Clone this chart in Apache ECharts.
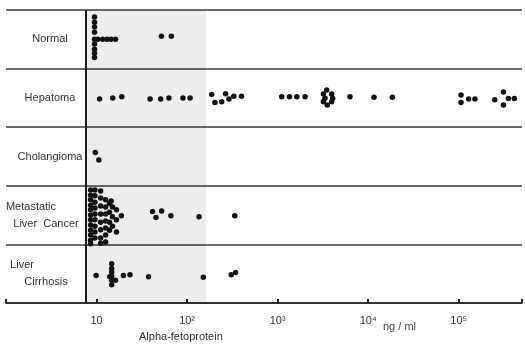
<!DOCTYPE html>
<html>
<head>
<meta charset="utf-8">
<script src="https://cdn.jsdelivr.net/npm/echarts@6/dist/echarts.min.js"></script>
<style>
  html, body { margin: 0; background: #fff; }
  #main { width: 525px; height: 347px; }
</style>
</head>
<body>
<div id="main"></div>
<script>
var categories = ['Normal', 'Hepatoma', 'Cholangioma', 'Metastatic Liver Cancer', 'Liver Cirrhosis'];

// each dot: [AFP in ng/ml, place inside its row, -0.5 = top .. 0.5 = bottom]
var normal = [
  [9.5, -0.38], [9.5, -0.29], [9.5, -0.21], [9.5, -0.12], [9.5, 0], [9.5, 0.08],
  [9.5, 0.17], [9.5, 0.24], [9.5, 0.31],
  [10.3, 0], [11.7, 0], [13.1, 0], [14.5, 0], [16.2, 0],
  [52, -0.05], [67, -0.05]
];
var hepatoma = [
  [10.8, 0.02], [15.1, 0], [19, -0.02], [39, 0.02], [51, 0.02], [63, 0], [90, 0], [108, 0],
  [187, -0.06], [203, 0.08], [241, 0.065], [266, -0.07], [290, 0.02], [328, -0.03], [399, -0.03],
  [1110, -0.02], [1350, -0.02], [1630, -0.02], [2010, -0.02],
  [3480, -0.135], [3200, -0.067], [3950, -0.067], [3340, 0.007], [4050, 0.007],
  [3200, 0.065], [3950, 0.065], [3540, 0.12],
  [6300, -0.02], [11600, -0.01], [18500, -0.01],
  [106000, -0.05], [106000, 0.08], [128800, 0.02], [151000, 0.02],
  [250000, 0.03], [312000, -0.1], [312000, 0.12], [354000, 0.01], [412000, 0.01]
];
var cholangioma = [[9.7, -0.07], [10.6, 0.06]];
var metastatic = [
  [8.6, -0.43], [8.6, -0.34], [8.6, -0.26], [8.6, -0.17], [8.6, -0.09], [8.6, 0],
  [8.6, 0.08], [8.6, 0.17], [8.6, 0.26], [8.6, 0.34], [8.6, 0.43], [8.6, 0.49],
  [9.6, -0.43], [9.6, -0.33], [9.6, -0.22], [9.6, -0.12], [9.6, -0.02], [9.6, 0.08],
  [9.6, 0.19], [9.6, 0.29], [9.6, 0.39],
  [11.1, -0.41], [11.1, -0.29], [11.1, -0.155], [11.1, -0.02], [11.1, 0.12], [11.1, 0.25],
  [11.1, 0.39], [11.1, 0.48],
  [12.6, -0.26], [12.6, -0.14], [12.6, -0.02], [12.6, 0.1], [12.6, 0.22], [12.6, 0.34], [12.6, 0.46],
  [13.9, -0.2], [13.9, -0.05], [13.9, 0.12], [13.9, 0.26], [15, -0.14], [15, 0.03], [15, 0.19],
  [16.6, -0.09], [16.6, 0.08], [16.6, 0.29], [18.8, 0.01], [14.5, -0.24],
  [41.6, -0.06], [52.3, -0.07], [45.3, 0.04], [66.2, 0.01], [135.6, 0.03], [336, 0.01]
];
var cirrhosis = [
  [9.9, 0.03], [14.7, -0.17], [14.7, -0.09], [14.7, -0.03], [14.7, 0.04], [14.7, 0.11], [14.7, 0.19],
  [14, 0.05], [16.2, 0.11], [19.8, 0.03], [23.4, 0.02], [37.6, 0.05],
  [151, 0.06], [307, 0.02], [343, -0.02]
];
var groups = [normal, hepatoma, cholangioma, metastatic, cirrhosis];

var tickLabels = { 1: '10', 2: '10²', 3: '10³', 4: '10⁴', 5: '10⁵' };
var lowerLimit = 7.6;   // left rule of the plot
var shadeTo = 162;      // grey band of the print

var myChart = echarts.init(document.getElementById('main'));

var series = groups.map(function (g, i) {
  return {
    name: categories[i],
    type: 'scatter',
    yAxisIndex: 1,
    symbolSize: 5.5,
    itemStyle: { color: '#111', opacity: 1 },
    data: g.map(function (d) { return [d[0], i + 0.5 + d[1]]; })
  };
});
series[0].markArea = {
  silent: true,
  itemStyle: { color: 'rgba(0,0,0,0.07)' },
  data: [[{ xAxis: lowerLimit }, { xAxis: shadeTo }]]
};
series[0].markLine = {
  silent: true,
  symbol: 'none',
  label: { show: false },
  lineStyle: { color: '#1a1a1a', width: 2, type: 'solid' },
  data: [{ xAxis: lowerLimit }]
};

var option = {
  backgroundColor: '#fff',
  animation: false,
  textStyle: { fontFamily: 'Liberation Sans' },
  title: [
    { text: 'Alpha-fetoprotein', left: 139, top: 331, padding: 0,
      textStyle: { fontSize: 11, fontWeight: 'normal', color: '#333' } },
    { text: 'ng / ml', left: 383, top: 321, padding: 0,
      textStyle: { fontSize: 11, fontWeight: 'normal', color: '#444' } }
  ],
  grid: { left: 6, right: 2, top: 10, bottom: 44 },
  xAxis: {
    type: 'log',
    min: 1,
    max: 500000,
    interval: 1,
    axisLine: { onZero: false, lineStyle: { color: '#222', width: 1.5 } },
    axisTick: { inside: true, length: 4, lineStyle: { color: '#222', width: 2 } },
    splitLine: { show: false },
    axisLabel: {
      margin: 12,
      fontSize: 11,
      color: '#333',
      formatter: function (v) {
        var p = Math.round(Math.log10(v));
        return Math.abs(Math.log10(v) - p) < 1e-6 && tickLabels[p] ? tickLabels[p] : '';
      }
    }
  },
  yAxis: [{
    type: 'category',
    inverse: true,
    data: categories,
    axisLine: { show: false },
    axisTick: { show: false },
    splitLine: { show: true, lineStyle: { color: '#3a3a3a', width: 1.5 } },
    axisLabel: {
      inside: true,
      align: 'center',
      margin: 44,
      fontSize: 11,
      color: '#333',
      formatter: function (v) {
        if (v === 'Metastatic Liver Cancer') return '{a|Metastatic}\n{b|Liver  Cancer}';
        if (v === 'Liver Cirrhosis') return '{c|Liver}\n{b|Cirrhosis}';
        return v;
      },
      rich: {
        a: { fontSize: 11, color: '#333', lineHeight: 17, padding: [0, 38, 0, 0] },
        b: { fontSize: 11, color: '#333', lineHeight: 17, padding: [0, 8, 0, 0] },
        c: { fontSize: 11, color: '#333', lineHeight: 17, padding: [0, 56, 0, 0] }
      }
    }
  }, {
    type: 'value',
    min: 0,
    max: 5,
    inverse: true,
    show: false
  }],
  series: series
};
myChart.setOption(option);
</script>
</body>
</html>
